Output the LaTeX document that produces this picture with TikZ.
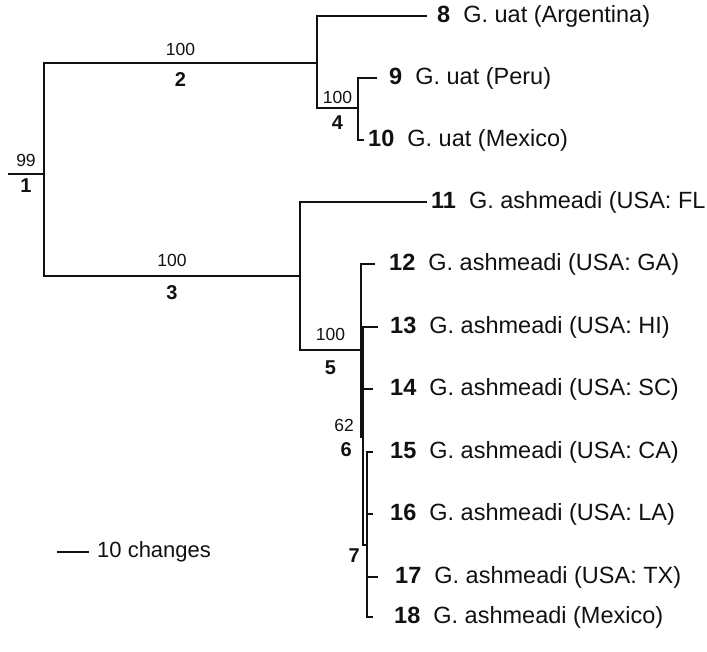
\documentclass[tikz,border=0pt]{standalone}
\usepackage{fontspec}
\setmainfont{Liberation Sans}
\usepackage{xcolor}
\definecolor{cInk}{HTML}{111111}
\usepackage{tikz}
\usetikzlibrary{positioning}
\tikzset{
  tree-branch/.style={draw=cInk,line width=1.7pt},
  tree-leaf/.style={anchor=west,inner sep=0pt,text=cInk,
    font=\fontsize{23.5}{28}\selectfont},
  % bootstrap above the branch, clade number below it
  tree-boot/.style={inner sep=1pt,text=cInk,font=\fontsize{17.5}{20}\selectfont},
  tree-clade/.style={inner sep=1pt,text=cInk,font=\bfseries\fontsize{20}{23}\selectfont},
}

\begin{document}
\begin{tikzpicture}[x=1pt,y=-1pt]
  \useasboundingbox (0,0) rectangle (707,652);
  % internal nodes
  \coordinate (root) at (8,174);
  \coordinate (n1) at (44,174);
  \coordinate (n2) at (317,63);
  \coordinate (n3) at (300,276);
  \coordinate (n4) at (358,108);
  \coordinate (n5) at (361,350);
  \coordinate (n6) at (363,437);
  \coordinate (n7) at (367,545);
  % tips
  \coordinate (t8)  at (427,16);
  \coordinate (t9)  at (377,78);
  \coordinate (t10) at (364,140);
  \coordinate (t11) at (427,202);
  \coordinate (t12) at (375,264);
  \coordinate (t13) at (378,327);
  \coordinate (t14) at (373,389);
  \coordinate (t15) at (373,452);
  \coordinate (t16) at (373,514);
  \coordinate (t17) at (378,577);
  \coordinate (t18) at (373,617);
  \node[tree-leaf,right=10pt of t8]  (l8)  {\textbf{8}\ \ G. uat (Argentina)};
  \node[tree-leaf,right=12pt of t9]  (l9)  {\textbf{9}\ \ G. uat (Peru)};
  \node[tree-leaf,right=4pt of t10]  (l10) {\textbf{10}\ \ G. uat (Mexico)};
  \node[tree-leaf,right=4pt of t11]  (l11) {\textbf{11}\ \ G. ashmeadi (USA: FL};
  \node[tree-leaf,right=14pt of t12] (l12) {\textbf{12}\ \ G. ashmeadi (USA: GA)};
  \node[tree-leaf,right=12pt of t13] (l13) {\textbf{13}\ \ G. ashmeadi (USA: HI)};
  \node[tree-leaf,right=17pt of t14] (l14) {\textbf{14}\ \ G. ashmeadi (USA: SC)};
  \node[tree-leaf,right=17pt of t15] (l15) {\textbf{15}\ \ G. ashmeadi (USA: CA)};
  \node[tree-leaf,right=17pt of t16] (l16) {\textbf{16}\ \ G. ashmeadi (USA: LA)};
  \node[tree-leaf,right=17pt of t17] (l17) {\textbf{17}\ \ G. ashmeadi (USA: TX)};
  \node[tree-leaf,right=21pt of t18] (l18) {\textbf{18}\ \ G. ashmeadi (Mexico)};

  \draw[tree-branch] (root) -- node[tree-boot,above=5pt]{99} node[tree-clade,below=3pt]{1} (n1);
  \draw[tree-branch] (n1) |- node[tree-boot,above=5pt,pos=0.75]{100}
    node[tree-clade,below=8pt,pos=0.75]{2} (n2);
  \draw[tree-branch] (n1) |- node[tree-boot,above=7pt,pos=0.75]{100}
    node[tree-clade,below=8pt,pos=0.75]{3} (n3);
  \draw[tree-branch] (n2) |- (t8);
  \draw[tree-branch] (n2) |- node[tree-boot,above=2pt,pos=0.75]{100}
    node[tree-clade,below=6pt,pos=0.75]{4} (n4);
  \draw[tree-branch] (n4) |- (t9);
  \draw[tree-branch] (n4) |- (t10);
  \draw[tree-branch] (n3) |- (t11);
  \draw[tree-branch] (n3) |- node[tree-boot,above=7pt,pos=0.75]{100}
    node[tree-clade,below=9pt,pos=0.75]{5} (n5);
  \draw[tree-branch] (n5) |- (t12);
  \draw[tree-branch] (n5) |- (n6);
  \draw[tree-branch] (n6) |- (t13);
  \draw[tree-branch] (n6) |- (t14);
  \draw[tree-branch] (n6) |- (n7);
  \draw[tree-branch] (n7) |- (t15);
  \draw[tree-branch] (n7) |- (t16);
  \draw[tree-branch] (n7) |- (t17);
  \draw[tree-branch] (n7) |- (t18);
  \node[tree-boot,above left=4pt and 8pt of n6]  (b6) {62};
  \node[tree-clade,below left=4pt and 10pt of n6] (c6) {6};
  \node[tree-clade,below left=3pt and 6pt of n7]  (c7) {7};

  % scale bar
  \coordinate (s0) at (57,552);
  \coordinate (s1) at (89,552);
  \draw[tree-branch] (s0) -- (s1);
  \node[tree-leaf,right=8pt of s1,font=\fontsize{22}{25}\selectfont] (scale) {10 changes};
\end{tikzpicture}
\end{document}
